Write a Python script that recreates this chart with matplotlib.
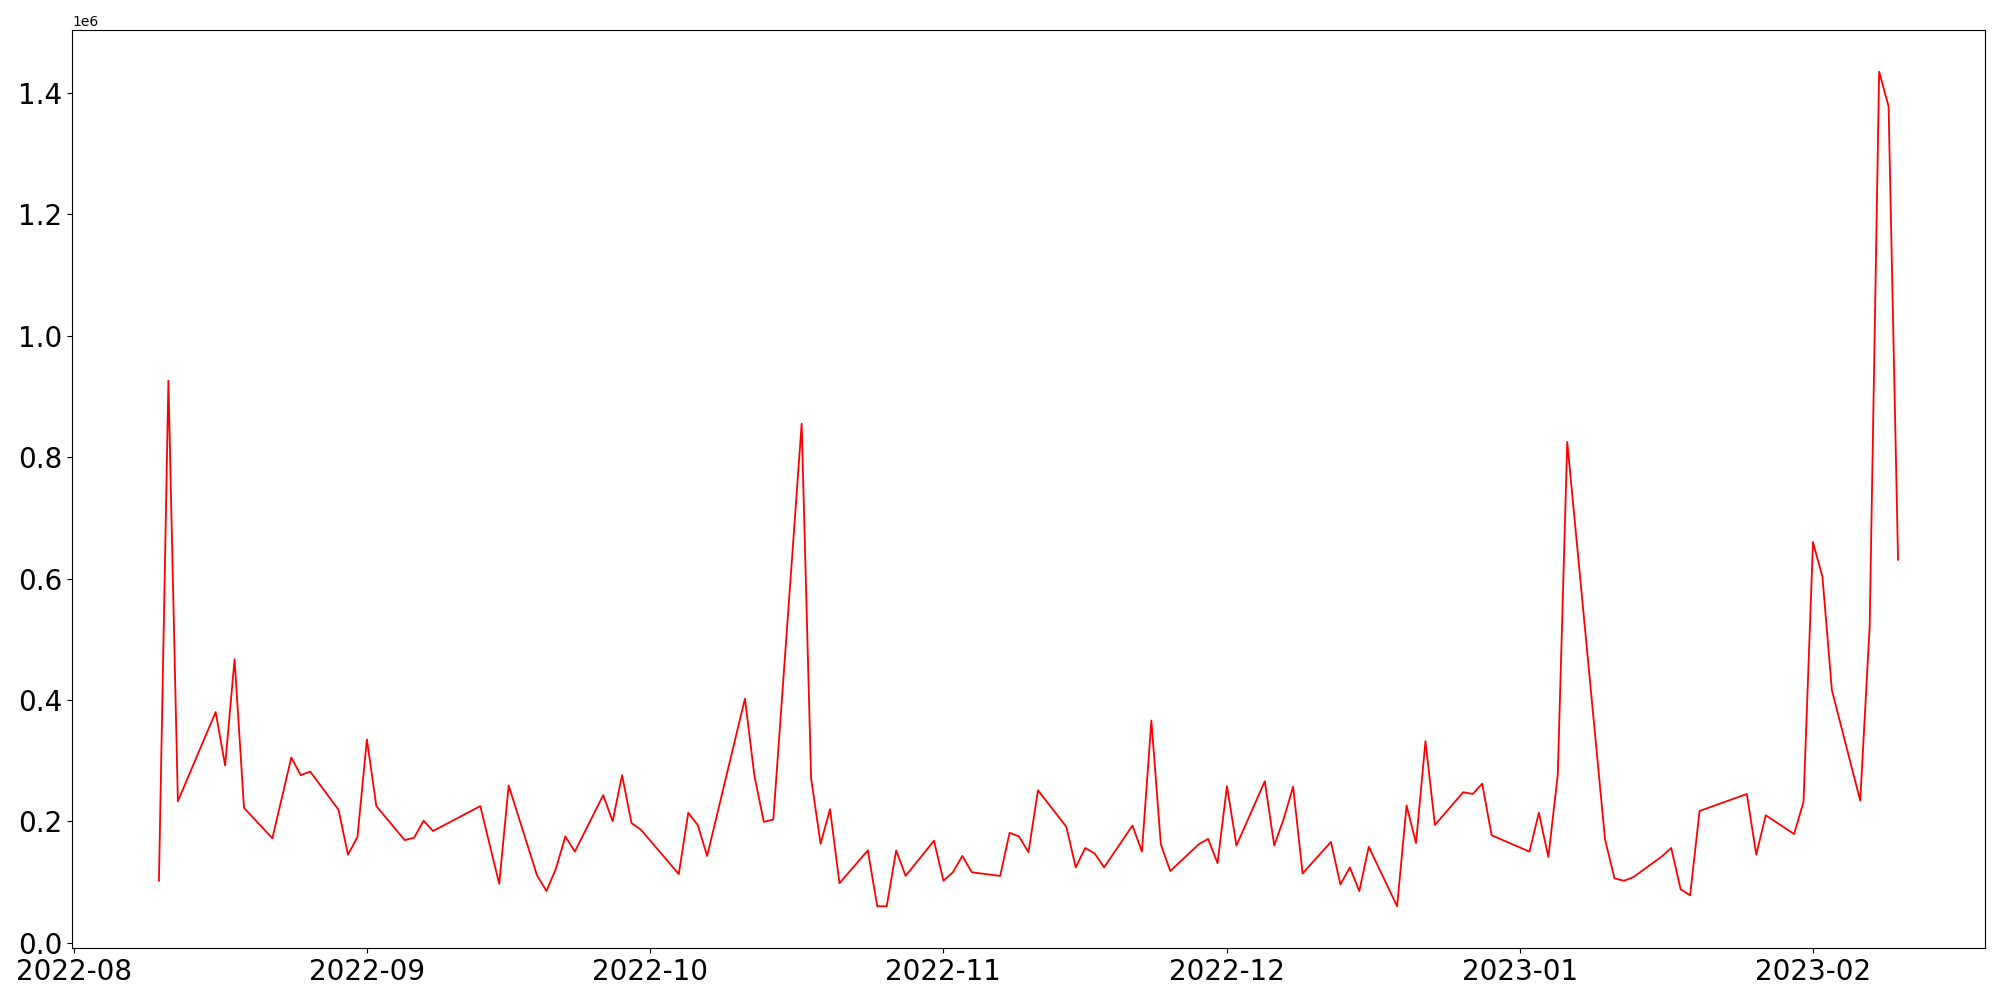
import numpy as np
import pandas as pd
import matplotlib
matplotlib.use('Agg')
import matplotlib.pyplot as plt

# trading days with data (some days missing)
dates = ['2022-08-10', '2022-08-11', '2022-08-12', '2022-08-16', '2022-08-17',
         '2022-08-18', '2022-08-19', '2022-08-22', '2022-08-24', '2022-08-25',
         '2022-08-26', '2022-08-29', '2022-08-30', '2022-08-31', '2022-09-01',
         '2022-09-02', '2022-09-05', '2022-09-06', '2022-09-07', '2022-09-08',
         '2022-09-13', '2022-09-15', '2022-09-16', '2022-09-19',
         '2022-09-20', '2022-09-21', '2022-09-22', '2022-09-23', '2022-09-26',
         '2022-09-27', '2022-09-28', '2022-09-29', '2022-09-30', '2022-10-04',
         '2022-10-05', '2022-10-06', '2022-10-07', '2022-10-11', '2022-10-12',
         '2022-10-13', '2022-10-14', '2022-10-17', '2022-10-18', '2022-10-19',
         '2022-10-20', '2022-10-21', '2022-10-24', '2022-10-25', '2022-10-26',
         '2022-10-27', '2022-10-28', '2022-10-31', '2022-11-01', '2022-11-02',
         '2022-11-03', '2022-11-04', '2022-11-07', '2022-11-08', '2022-11-09',
         '2022-11-10', '2022-11-11', '2022-11-14', '2022-11-15', '2022-11-16',
         '2022-11-17', '2022-11-18', '2022-11-21', '2022-11-22', '2022-11-23',
         '2022-11-24', '2022-11-25', '2022-11-28', '2022-11-29', '2022-11-30',
         '2022-12-01', '2022-12-02', '2022-12-05', '2022-12-06', '2022-12-07',
         '2022-12-08', '2022-12-09', '2022-12-12', '2022-12-13', '2022-12-14',
         '2022-12-15', '2022-12-16', '2022-12-19', '2022-12-20', '2022-12-21',
         '2022-12-22', '2022-12-23', '2022-12-26', '2022-12-27', '2022-12-28',
         '2022-12-29', '2023-01-02', '2023-01-03', '2023-01-04', '2023-01-05',
         '2023-01-06', '2023-01-10', '2023-01-11', '2023-01-12', '2023-01-13',
         '2023-01-16', '2023-01-17', '2023-01-18', '2023-01-19', '2023-01-20',
         '2023-01-25', '2023-01-26', '2023-01-27', '2023-01-30', '2023-01-31',
         '2023-02-01', '2023-02-02', '2023-02-03', '2023-02-06', '2023-02-07',
         '2023-02-08', '2023-02-09', '2023-02-10']

# values in millions
values = [0.102, 0.926, 0.233, 0.380, 0.292,
          0.467, 0.222, 0.172, 0.305, 0.276,
          0.282, 0.219, 0.145, 0.174, 0.335,
          0.225, 0.169, 0.173, 0.201, 0.184,
          0.225, 0.097, 0.259, 0.111,
          0.085, 0.122, 0.175, 0.150, 0.243,
          0.200, 0.276, 0.197, 0.186, 0.113,
          0.214, 0.194, 0.143, 0.402, 0.275,
          0.199, 0.203, 0.855, 0.271, 0.163,
          0.220, 0.098, 0.152, 0.060, 0.060,
          0.152, 0.110, 0.168, 0.102, 0.116,
          0.143, 0.116, 0.110, 0.181, 0.175,
          0.149, 0.251, 0.191, 0.124, 0.156,
          0.147, 0.124, 0.193, 0.150, 0.366,
          0.162, 0.118, 0.162, 0.171, 0.131,
          0.258, 0.160, 0.266, 0.160, 0.204,
          0.257, 0.114, 0.166, 0.096, 0.124,
          0.085, 0.158, 0.060, 0.226, 0.164,
          0.332, 0.194, 0.248, 0.245, 0.262,
          0.177, 0.150, 0.214, 0.141, 0.277,
          0.825, 0.170, 0.106, 0.102, 0.108,
          0.142, 0.156, 0.088, 0.078, 0.217,
          0.245, 0.145, 0.210, 0.179, 0.232,
          0.660, 0.603, 0.416, 0.234, 0.522,
          1.435, 1.378, 0.631]

x = pd.to_datetime(dates)
y = np.array(values) * 1e6

fig = plt.figure(figsize=[20, 10], dpi=100)
axis = fig.add_axes([0.036, 0.052, 0.9565, 0.918])

axis.plot(x, y, color='red', linewidth=1.3)

plt.xticks(fontsize=20)
plt.yticks(fontsize=20)

fig.savefig('out.png', dpi=100)
